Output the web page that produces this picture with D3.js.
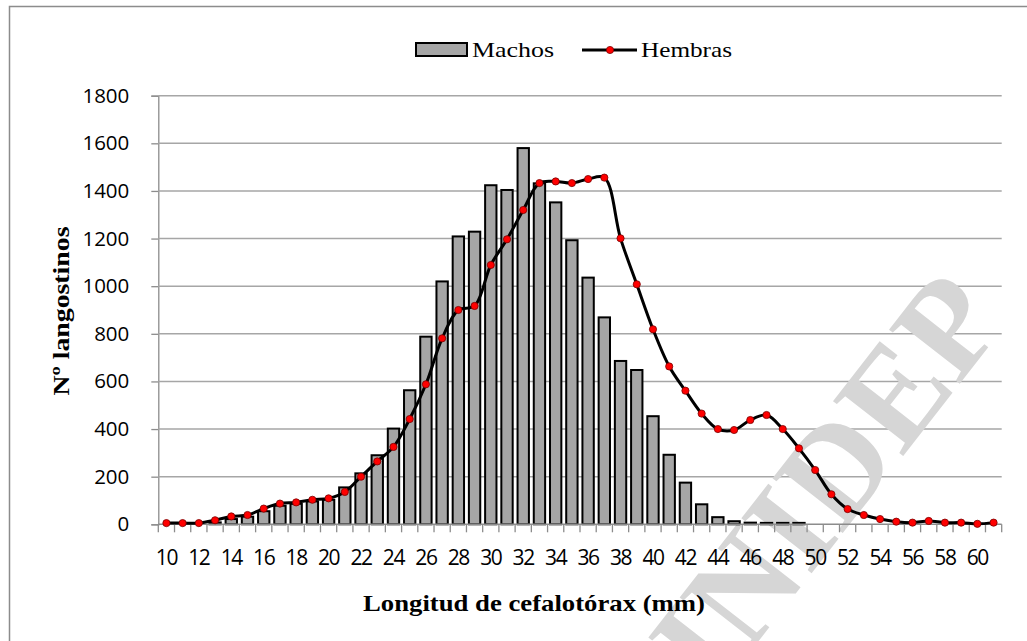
<!DOCTYPE html>
<html>
<head>
<meta charset="utf-8">
<script src="https://cdn.jsdelivr.net/npm/d3@7"></script>
<style>
  html, body { margin: 0; padding: 0; background: #fff; }
  svg { display: block; }
</style>
</head>
<body>
<svg id="chart"></svg>
<script>
// Longitud de cefalotórax (mm), one category per mm
const categories = d3.range(10, 62);
const machos = [
    0, 0, 0, 8, 22, 32, 55, 78, 86, 96,
    103, 155, 214, 290, 402, 563, 788, 1020, 1209, 1229,
    1424, 1404, 1580, 1432, 1352, 1193, 1036, 869, 686, 648,
    454, 292, 175, 84, 30, 13, 7, 6, 6, 6,
    0, 0, 0, 0, 0, 0, 0, 0, 0, 0,
    0, 0
];
const hembras = [
    5, 5, 5, 17, 33, 39, 66, 87, 92, 103,
    109, 136, 200, 264, 325, 442, 588, 781, 900, 917,
    1089, 1197, 1320, 1433, 1440, 1433, 1450, 1456, 1201, 1008,
    819, 663, 561, 465, 400, 396, 438, 459, 400, 319,
    228, 126, 64, 39, 22, 11, 7, 14, 7, 7,
    2, 7
];
const yTicks = [0, 200, 400, 600, 800, 1000, 1200, 1400, 1600, 1800];
const xTickLabels = d3.range(10, 61, 2);

const width = 1027, height = 641;
const svg = d3.select("#chart").attr("width", width).attr("height", height);

// plot area
const plotLeft = 158.3, plotRight = 1001.7, plotTop = 95.7, plotBottom = 524.3;

const x = d3.scaleBand().domain(categories).range([plotLeft, plotRight])
    .paddingInner(0.3).paddingOuter(0.15);
const y = d3.scaleLinear().domain([0, 1800]).range([plotBottom, plotTop]);

// outer chart frame
svg.append("rect")
    .attr("x", 9.5).attr("y", 6.5)
    .attr("width", 1040).attr("height", 660)
    .attr("fill", "#fff")
    .attr("stroke", "#8c8c8c").attr("stroke-width", 1.5);

// horizontal gridlines + y ticks
const yAxis = d3.axisLeft(y).tickValues(yTicks).tickSize(7).tickPadding(22)
    .tickFormat(d3.format("d"));
const gy = svg.append("g").attr("transform", `translate(${plotLeft},0)`).call(yAxis);
gy.select(".domain").attr("stroke", "#8c8c8c").attr("stroke-width", 1.3);
gy.selectAll(".tick line").attr("stroke", "#8c8c8c").attr("stroke-width", 1.3);
gy.selectAll(".tick text")
    .attr("font-family", "'Open Sans', sans-serif")
    .attr("font-size", 20.5).attr("fill", "#000");

svg.append("g").selectAll("line")
    .data(yTicks.filter(d => d > 0))
    .enter().append("line")
    .attr("x1", plotLeft).attr("x2", plotRight)
    .attr("y1", d => y(d)).attr("y2", d => y(d))
    .attr("stroke", "#a6a6a6").attr("stroke-width", 1.5);

// watermark
svg.append("text")
    .attr("transform", "translate(826,480) rotate(-52)")
    .attr("text-anchor", "middle")
    .attr("dominant-baseline", "central")
    .attr("font-family", "'Liberation Serif', serif")
    .attr("font-weight", "bold")
    .attr("font-size", 136)
    .attr("fill", "#d6d6d6")
    .text("INIDEP");

// bars (Machos)
svg.append("g").selectAll("rect")
    .data(categories.map((c, i) => ({ c, v: machos[i] })).filter(d => d.v > 0))
    .enter().append("rect")
    .attr("x", d => x(d.c))
    .attr("y", d => y(d.v))
    .attr("width", x.bandwidth())
    .attr("height", d => plotBottom - y(d.v))
    .attr("fill", "#a6a6a6")
    .attr("stroke", "#000")
    .attr("stroke-width", 2);

// x axis: line + tick marks between categories
svg.append("line")
    .attr("x1", plotLeft).attr("x2", plotRight)
    .attr("y1", plotBottom).attr("y2", plotBottom)
    .attr("stroke", "#8c8c8c").attr("stroke-width", 1.5);
const step = x.step();
const boundaries = d3.range(categories.length + 1).map(i => plotLeft + i * step);
svg.append("g").selectAll("line")
    .data(boundaries)
    .enter().append("line")
    .attr("x1", d => d).attr("x2", d => d)
    .attr("y1", plotBottom).attr("y2", plotBottom + 8)
    .attr("stroke", "#8c8c8c").attr("stroke-width", 1.3);

svg.append("g").selectAll("text")
    .data(xTickLabels)
    .enter().append("text")
    .attr("x", d => x(d) + x.bandwidth() / 2)
    .attr("y", 565)
    .attr("text-anchor", "middle")
    .attr("font-family", "'Open Sans', sans-serif")
    .attr("font-size", 21)
    .attr("letter-spacing", -1.4)
    .attr("fill", "#000")
    .text(d => d);

// line (Hembras)
const pts = categories.map((c, i) => [x(c) + x.bandwidth() / 2, y(hembras[i])]);
svg.append("path")
    .attr("d", d3.line().curve(d3.curveCatmullRom.alpha(0.5))(pts))
    .attr("fill", "none")
    .attr("stroke", "#000")
    .attr("stroke-width", 3);
svg.append("g").selectAll("circle")
    .data(pts)
    .enter().append("circle")
    .attr("cx", d => d[0]).attr("cy", d => d[1])
    .attr("r", 3.6)
    .attr("fill", "#ff0000")
    .attr("stroke", "#7a0000")
    .attr("stroke-width", 0.8);

// axis titles
svg.append("text")
    .attr("x", 534).attr("y", 611)
    .attr("text-anchor", "middle")
    .attr("font-family", "'Liberation Serif', serif")
    .attr("font-weight", "bold")
    .attr("font-size", 23)
    .attr("textLength", 342).attr("lengthAdjust", "spacingAndGlyphs")
    .text("Longitud de cefalotórax (mm)");

svg.append("text")
    .attr("transform", "translate(69,311) rotate(-90)")
    .attr("text-anchor", "middle")
    .attr("font-family", "'Liberation Serif', serif")
    .attr("font-weight", "bold")
    .attr("font-size", 23)
    .attr("textLength", 169).attr("lengthAdjust", "spacingAndGlyphs")
    .text("Nº langostinos");

// legend
const legend = svg.append("g");
legend.append("rect")
    .attr("x", 416).attr("y", 43)
    .attr("width", 51).attr("height", 13)
    .attr("fill", "#a6a6a6").attr("stroke", "#000").attr("stroke-width", 2);
legend.append("text")
    .attr("x", 472).attr("y", 57)
    .attr("font-family", "'Liberation Serif', serif")
    .attr("font-size", 22)
    .attr("textLength", 82).attr("lengthAdjust", "spacingAndGlyphs")
    .text("Machos");
legend.append("line")
    .attr("x1", 582).attr("x2", 637).attr("y1", 50).attr("y2", 50)
    .attr("stroke", "#000").attr("stroke-width", 3);
legend.append("circle")
    .attr("cx", 610).attr("cy", 50).attr("r", 3.6)
    .attr("fill", "#ff0000").attr("stroke", "#7a0000").attr("stroke-width", 0.8);
legend.append("text")
    .attr("x", 641).attr("y", 57)
    .attr("font-family", "'Liberation Serif', serif")
    .attr("font-size", 22)
    .attr("textLength", 91).attr("lengthAdjust", "spacingAndGlyphs")
    .text("Hembras");
</script>
</body>
</html>
